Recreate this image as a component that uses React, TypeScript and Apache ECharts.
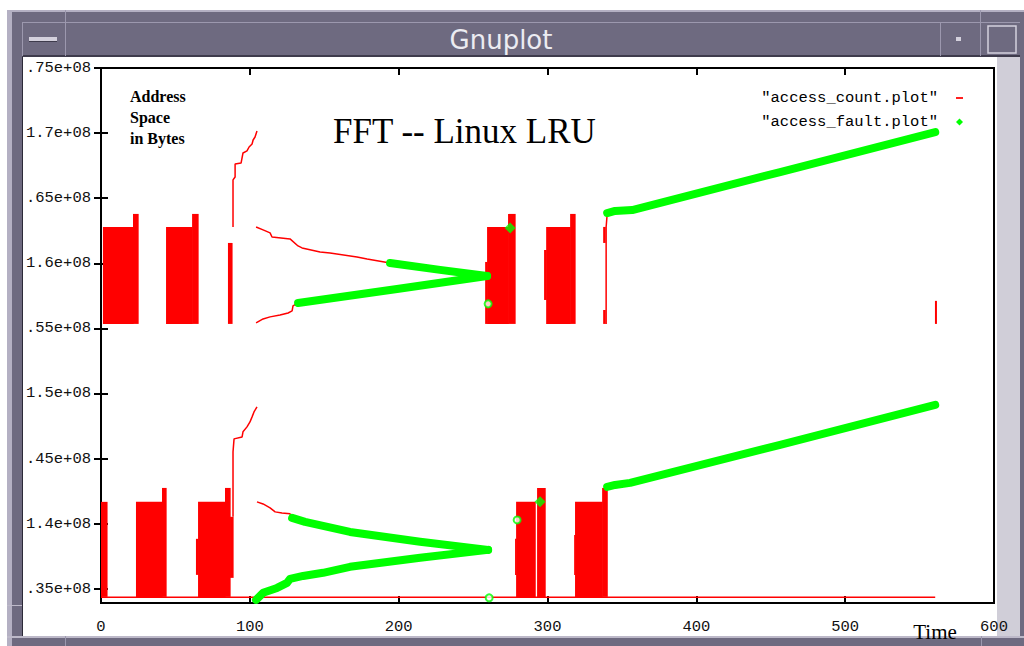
import React, { useEffect, useRef } from "react";
import * as echarts from "echarts";

// ---- axes ----
const X_TICKS = [0, 100, 200, 300, 400, 500, 600];
const Y_TICKS = [1.35e8, 1.4e8, 1.45e8, 1.5e8, 1.55e8, 1.6e8, 1.65e8, 1.7e8, 1.75e8];
const Y_TICK_LABELS = [".35e+08", "1.4e+08", ".45e+08", "1.5e+08", ".55e+08", "1.6e+08", ".65e+08", "1.7e+08", ".75e+08"];
const Y_MIN = 1.339e8;
const Y_MAX = 1.75e8;

const COUNT_NAME = '"access_count.plot"';
const FAULT_NAME = '"access_fault.plot"';

// ---- access_count: dense bursts, each as [tStart, tEnd, addrLow, addrHigh] ----
const COUNT_BURSTS_UPPER = [
  [1.3, 21.5, 1.5534e8, 1.6279e8],
  [21.5, 24.9, 1.5534e8, 1.6379e8],
  [43.7, 61.2, 1.5534e8, 1.6279e8],
  [61.2, 65.2, 1.5534e8, 1.6379e8],
  [85.3, 88.0, 1.5534e8, 1.6156e8],
  [258.1, 259.4, 1.5534e8, 1.601e8],
  [259.4, 273.5, 1.5534e8, 1.6279e8],
  [273.5, 278.2, 1.5534e8, 1.6379e8],
  [297.7, 299.1, 1.5718e8, 1.6102e8],
  [299.1, 315.2, 1.5534e8, 1.6279e8],
  [315.2, 318.5, 1.5534e8, 1.6379e8],
  [337.4, 338.7, 1.6156e8, 1.6279e8],
  [337.4, 338.7, 1.5534e8, 1.5641e8],
];
const COUNT_BURSTS_LOWER = [
  [0, 4.0, 1.3437e8, 1.4167e8],
  [23.5, 41.0, 1.3437e8, 1.4167e8],
  [41.0, 43.7, 1.3437e8, 1.4274e8],
  [63.8, 65.2, 1.3606e8, 1.3883e8],
  [65.2, 83.3, 1.3437e8, 1.4167e8],
  [83.3, 86.7, 1.3437e8, 1.4274e8],
  [86.7, 88.7, 1.3583e8, 1.4052e8],
  [278.2, 278.9, 1.3606e8, 1.3883e8],
  [278.9, 291.7, 1.3437e8, 1.4167e8],
  [293.0, 298.4, 1.3437e8, 1.4274e8],
  [317.9, 318.5, 1.3606e8, 1.3913e8],
  [318.5, 336.7, 1.3437e8, 1.4167e8],
  [336.7, 340.1, 1.3437e8, 1.4274e8],
];

// ---- access_count: single traces [time, address] ----
const COUNT_UPPER_RISE = [
  [88.7, 1.6279e8], [88.7, 1.664e8], [90.1, 1.6663e8], [90.1, 1.6763e8], [94.1, 1.677e8],
  [95.4, 1.6847e8], [98.1, 1.6863e8], [99.5, 1.6893e8], [101.5, 1.6916e8], [102.2, 1.6947e8],
  [103.5, 1.697e8], [104.8, 1.7016e8],
];
const COUNT_UPPER_ARM_TOP = [
  [104.2, 1.6279e8], [108.9, 1.6256e8], [113.6, 1.6233e8], [114.9, 1.6202e8], [127.0, 1.6187e8],
  [132.4, 1.6133e8], [135.1, 1.6118e8], [147.2, 1.6087e8], [153.9, 1.6079e8], [172.0, 1.6048e8],
  [178.8, 1.6033e8], [194.2, 1.6002e8],
];
const COUNT_UPPER_ARM_BOTTOM = [
  [104.2, 1.5542e8], [108.9, 1.5572e8], [113.6, 1.5588e8], [120.3, 1.5603e8], [125.7, 1.5618e8],
  [128.4, 1.5634e8], [129.0, 1.5672e8], [132.4, 1.5695e8],
];
const COUNT_UPPER_STEM = [[339.4, 1.5534e8], [339.4, 1.6279e8], [340.1, 1.6379e8]];
const COUNT_UPPER_TAIL = [[561.0, 1.5534e8], [561.0, 1.5711e8]];
const COUNT_LOWER_RISE = [
  [88.7, 1.4052e8], [88.7, 1.4551e8], [89.4, 1.4651e8], [94.8, 1.4666e8], [95.4, 1.4705e8],
  [98.1, 1.4743e8], [100.1, 1.4781e8], [101.5, 1.482e8], [102.8, 1.4858e8], [104.8, 1.4896e8],
];
const COUNT_LOWER_ARM_TOP = [
  [104.8, 1.4167e8], [108.9, 1.4151e8], [113.6, 1.4121e8], [117.0, 1.409e8], [121.6, 1.4082e8],
  [127.0, 1.4075e8], [128.4, 1.4052e8],
];
const COUNT_BASELINE = [[0, 1.3435e8], [560.5, 1.3435e8]];

// ---- access_fault traces [time, address] ----
const FAULT_UPPER_ARM_TOP = [[194.2, 1.6002e8], [227.8, 1.5949e8], [259.4, 1.5902e8]];
const FAULT_UPPER_ARM_BOTTOM = [[132.4, 1.5695e8], [198.9, 1.5802e8], [259.4, 1.5902e8]];
const FAULT_UPPER_RAMP = [
  [340.1, 1.6386e8], [345.4, 1.6402e8], [356.9, 1.6409e8], [456.3, 1.6701e8], [560.5, 1.7008e8],
];
const FAULT_LOWER_ARM_TOP = [
  [128.4, 1.4044e8], [137.1, 1.4013e8], [167.3, 1.3936e8], [214.4, 1.386e8], [260.1, 1.3798e8],
];
const FAULT_LOWER_ARM_BOTTOM = [
  [104.2, 1.3414e8], [108.9, 1.3468e8], [118.3, 1.3506e8], [125.0, 1.3545e8], [127.0, 1.3575e8],
  [135.8, 1.3598e8], [149.2, 1.3622e8], [167.3, 1.3668e8], [214.4, 1.3737e8], [260.1, 1.3798e8],
];
const FAULT_LOWER_RAMP = [
  [340.1, 1.4282e8], [345.4, 1.4297e8], [355.5, 1.4313e8], [456.3, 1.4605e8], [560.5, 1.4912e8],
];
const FAULT_BLOBS = [[274.9, 1.6271e8], [295.0, 1.4167e8]];
const FAULT_RINGS = [[260.1, 1.5688e8], [279.6, 1.4028e8], [260.8, 1.343e8]];

const RED = "#ff0000";
const GREEN = "#00ff00";
const MONO = "Liberation Mono";
const SERIF = "Liberation Serif";
const FRAME = "#6e6a80";
const FRAME_LIGHT = "#b4b0c3";
const FRAME_DARK = "#3e3b4c";

function countTrace(data: number[][]) {
  return {
    type: "line",
    name: COUNT_NAME,
    data,
    showSymbol: false,
    symbol: "none",
    lineStyle: { color: RED, width: 1.5 },
    itemStyle: { color: RED },
    z: 3,
  };
}

function faultTrace(data: number[][]) {
  return {
    type: "line",
    name: FAULT_NAME,
    data,
    showSymbol: false,
    symbol: "none",
    lineStyle: { color: GREEN, width: 8, cap: "round", join: "round" },
    itemStyle: { color: GREEN },
    z: 4,
  };
}

function burstSeries(data: number[][]) {
  return {
    type: "custom",
    name: COUNT_NAME,
    data,
    itemStyle: { color: RED },
    z: 2,
    renderItem: (_params: any, api: any) => {
      const p0 = api.coord([api.value(0), api.value(3)]);
      const p1 = api.coord([api.value(1), api.value(2)]);
      // a hair of overlap so neighbouring bursts join without seams
      return {
        type: "rect",
        shape: { x: p0[0], y: p0[1], width: p1[0] - p0[0] + 0.6, height: p1[1] - p0[1] },
        style: { fill: RED },
      };
    },
  };
}

function windowChrome() {
  const z = -10;
  const r = (x: number, y: number, w: number, h: number, fill: string) => ({
    type: "rect",
    z,
    silent: true,
    shape: { x, y, width: w, height: h },
    style: { fill },
  });
  return [
    r(7, 10, 1017, 636, FRAME),
    r(7, 10, 5, 636, FRAME_LIGHT),
    r(7, 10, 1017, 2, FRAME_LIGHT),
    r(22, 22, 998, 1, "#9c98ae"),
    r(22, 55, 998, 2, FRAME_DARK),
    r(22, 22, 1, 34, "#9c98ae"),
    r(65, 10, 1, 46, "#9c98ae"),
    r(940, 22, 1, 34, "#9c98ae"),
    r(980, 10, 1, 46, "#9c98ae"),
    r(29, 37, 28, 4, "#d4d1dd"),
    r(29, 41, 28, 1, FRAME_DARK),
    r(956, 37, 5, 4, "#d4d1dd"),
    {
      type: "rect",
      z,
      silent: true,
      shape: { x: 988, y: 26, width: 28, height: 27 },
      style: { fill: "none", stroke: "#d4d1dd", lineWidth: 1.5 },
    },
    r(23, 57, 974, 579, "#ffffff"),
    r(22, 57, 1, 579, "#2c2a38"),
    r(997, 57, 23, 579, "#d0ced8"),
    r(7, 636, 1017, 2, "#bdb9c9"),
    r(65, 636, 1, 10, "#9c98ae"),
    r(981, 636, 1, 10, "#9c98ae"),
    r(7, 605, 15, 1, "#bdb9c9"),
    {
      type: "text",
      z,
      silent: true,
      x: 501,
      y: 40,
      style: {
        text: "Gnuplot",
        fill: "#ececf2",
        font: '26px "DejaVu Sans"',
        align: "center",
        verticalAlign: "middle",
      },
    },
  ];
}

function yLabel(v: number) {
  for (let i = 0; i < Y_TICKS.length; i++) {
    if (Math.abs(Y_TICKS[i] - v) < 10) return Y_TICK_LABELS[i];
  }
  return "";
}

function buildOption() {
  const tick = { inside: true, length: 7, lineStyle: { color: "#000", width: 2 } };
  return {
    animation: false,
    backgroundColor: "#ffffff",
    title: {
      text: "FFT -- Linux LRU",
      left: 333,
      top: 114,
      padding: 0,
      textStyle: { fontFamily: SERIF, fontSize: 35, fontWeight: "normal", color: "#000" },
    },
    legend: {
      orient: "vertical",
      right: 61,
      top: 90,
      padding: 0,
      align: "right",
      itemWidth: 7,
      itemHeight: 7,
      itemGap: 8,
      selectedMode: false,
      textStyle: { fontFamily: MONO, fontSize: 15.5, color: "#000", padding: [0, 13, 0, 0] },
      data: [
        { name: COUNT_NAME, icon: "path://M0,0H4V1H0Z" },
        { name: FAULT_NAME, icon: "diamond" },
      ],
    },
    grid: {
      left: 101,
      right: 30,
      top: 68,
      bottom: 43,
      show: true,
      borderColor: "#000",
      borderWidth: 2,
      backgroundColor: "transparent",
    },
    xAxis: [
      {
        type: "value",
        min: X_TICKS[0],
        max: X_TICKS[X_TICKS.length - 1],
        interval: 100,
        position: "bottom",
        axisLine: { show: false },
        axisTick: tick,
        splitLine: { show: false },
        axisLabel: {
          margin: 16,
          fontFamily: MONO,
          fontSize: 15.5,
          color: "#111",
          formatter: (v: number) => String(v),
        },
      },
      {
        type: "value",
        min: X_TICKS[0],
        max: X_TICKS[X_TICKS.length - 1],
        interval: 100,
        position: "top",
        axisLine: { show: false },
        axisTick: tick,
        splitLine: { show: false },
        axisLabel: { show: false },
      },
    ],
    yAxis: [
      {
        type: "value",
        min: Y_MIN,
        max: Y_MAX,
        position: "left",
        axisLine: { show: false },
        axisTick: { ...tick, customValues: Y_TICKS },
        splitLine: { show: false },
        axisLabel: {
          customValues: Y_TICKS,
          margin: 10,
          fontFamily: MONO,
          fontSize: 15.5,
          color: "#111",
          formatter: yLabel,
        },
      },
      {
        type: "value",
        min: Y_MIN,
        max: Y_MAX,
        position: "right",
        axisLine: { show: false },
        axisTick: { ...tick, customValues: Y_TICKS },
        splitLine: { show: false },
        axisLabel: { show: false },
      },
    ],
    graphic: [
      ...windowChrome(),
      {
        type: "text",
        z: 10,
        x: 130,
        y: 86,
        style: {
          text: "Address\nSpace\nin Bytes",
          font: 'bold 16px "Liberation Serif"',
          lineHeight: 21,
          fill: "#000",
          align: "left",
          verticalAlign: "top",
        },
      },
      {
        type: "text",
        z: 10,
        x: 935,
        y: 632,
        style: {
          text: "Time",
          font: '21px "Liberation Serif"',
          fill: "#000",
          align: "center",
          verticalAlign: "middle",
        },
      },
    ],
    series: [
      burstSeries(COUNT_BURSTS_UPPER),
      burstSeries(COUNT_BURSTS_LOWER),
      countTrace(COUNT_UPPER_RISE),
      countTrace(COUNT_UPPER_ARM_TOP),
      countTrace(COUNT_UPPER_ARM_BOTTOM),
      countTrace(COUNT_UPPER_STEM),
      { ...countTrace(COUNT_UPPER_TAIL), lineStyle: { color: RED, width: 2 } },
      countTrace(COUNT_LOWER_RISE),
      countTrace(COUNT_LOWER_ARM_TOP),
      countTrace(COUNT_BASELINE),
      faultTrace(FAULT_UPPER_ARM_TOP),
      faultTrace(FAULT_UPPER_ARM_BOTTOM),
      faultTrace(FAULT_UPPER_RAMP),
      faultTrace(FAULT_LOWER_ARM_TOP),
      faultTrace(FAULT_LOWER_ARM_BOTTOM),
      faultTrace(FAULT_LOWER_RAMP),
      {
        type: "scatter",
        name: FAULT_NAME,
        data: FAULT_BLOBS,
        symbol: "diamond",
        symbolSize: 11,
        itemStyle: { color: GREEN },
        z: 5,
      },
      {
        type: "scatter",
        name: FAULT_NAME,
        data: FAULT_RINGS,
        symbol: "emptyCircle",
        symbolSize: 7,
        itemStyle: { color: GREEN, borderColor: GREEN, borderWidth: 1.5 },
        z: 5,
      },
    ],
  };
}

export default function App() {
  const ref = useRef<HTMLDivElement>(null);
  useEffect(() => {
    if (!ref.current) return;
    const chart = echarts.init(ref.current, null, { renderer: "svg" });
    chart.setOption(buildOption() as any);
    return () => chart.dispose();
  }, []);
  return (
    <div
      ref={ref}
      style={{ position: "fixed", left: 0, top: 0, width: 1024, height: 646 }}
    />
  );
}
